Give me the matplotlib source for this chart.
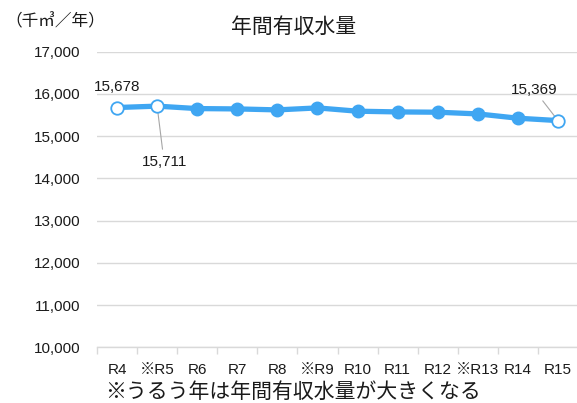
import matplotlib
matplotlib.use('Agg')
import matplotlib.pyplot as plt
import numpy as np

plt.rcParams['font.family'] = ['Liberation Sans', 'Noto Sans CJK JP', 'DejaVu Sans']
jp = ['Noto Sans CJK JP', 'DejaVu Sans']

# data
years = ['R4', '※R5', 'R6', 'R7', 'R8', '※R9', 'R10', 'R11', 'R12', '※R13', 'R14', 'R15']
volume = [15678, 15711, 15653, 15645, 15622, 15669, 15591, 15574, 15567, 15527, 15425, 15369]
open_points = [0, 1, 11]
y_ticks = [10000, 11000, 12000, 13000, 14000, 15000, 16000, 17000]

blue = '#3FA6F2'
txt = '#1a1a1a'

fig = plt.figure(figsize=(5.77, 4.03), dpi=100)
W, H = 577, 403
left, right = 97, 578
top, bottom = 51.7, 347.3
ax = fig.add_axes([left / W, 1 - bottom / H, (right - left) / W, (bottom - top) / H])

x = np.arange(len(years))
ax.plot(x, volume, color=blue, linewidth=3.8, solid_capstyle='round', zorder=3)
# filled markers
filled = [i for i in x if i not in open_points]
ax.plot(filled, [volume[i] for i in filled], 'o', color=blue, markersize=9, zorder=4)
# open markers
ax.plot(open_points, [volume[i] for i in open_points], 'o', markerfacecolor='white',
        markeredgecolor=blue, markeredgewidth=1.3, markersize=9, zorder=5)

ax.set_xlim(-0.5, len(years) - 0.5)
ax.set_ylim(10000, 17000)
ax.set_yticks(y_ticks)
ax.set_yticklabels(['{:,}'.format(v) for v in y_ticks])
ax.yaxis.grid(True, color='#d9d9d9', linewidth=1)
ax.set_axisbelow(True)

ax.set_xticks(x)
ax.set_xticklabels(years)
ax.set_xticks(np.arange(-0.5, len(years)), minor=True)
ax.tick_params(axis='x', which='major', length=0, pad=11, labelsize=11, labelcolor=txt)
ax.tick_params(axis='x', which='minor', length=5, color='#d9d9d9', width=1)
ax.tick_params(axis='y', length=0, pad=12, labelsize=11, labelcolor=txt)

for side in ['top', 'right', 'left']:
    ax.spines[side].set_visible(False)
ax.spines['bottom'].set_color('#d9d9d9')
ax.spines['bottom'].set_linewidth(1)

# data labels
ax.annotate('{:,}'.format(volume[0]), (0, volume[0]), xytext=(0, 10), textcoords='offset points',
            ha='center', va='bottom', fontsize=11, color=txt)
ax.annotate('{:,}'.format(volume[1]), (1, volume[1]), xytext=(5, -35), textcoords='offset points',
            ha='center', va='top', fontsize=11, color=txt,
            arrowprops=dict(arrowstyle='-', color='#a6a6a6', linewidth=0.8, shrinkA=2, shrinkB=4))
ax.annotate('{:,}'.format(volume[11]), (11, volume[11]), xytext=(-17, 17), textcoords='offset points',
            ha='center', va='bottom', fontsize=11, color=txt,
            arrowprops=dict(arrowstyle='-', color='#a6a6a6', linewidth=0.8, shrinkA=1, shrinkB=4))

fig.text(294 / W, 1 - 27 / H, '年間有収水量', ha='center', va='center', fontsize=15,
         family=jp, color=txt)
fig.text(5 / W, 1 - 22 / H, '（千㎥／年）', ha='left', va='center', fontsize=12,
         family=jp, color=txt)
fig.text(293 / W, 1 - 392 / H, '※うるう年は年間有収水量が大きくなる', ha='center', va='center',
         fontsize=15, family=jp, color=txt)

fig.savefig('out.png', dpi=100)
